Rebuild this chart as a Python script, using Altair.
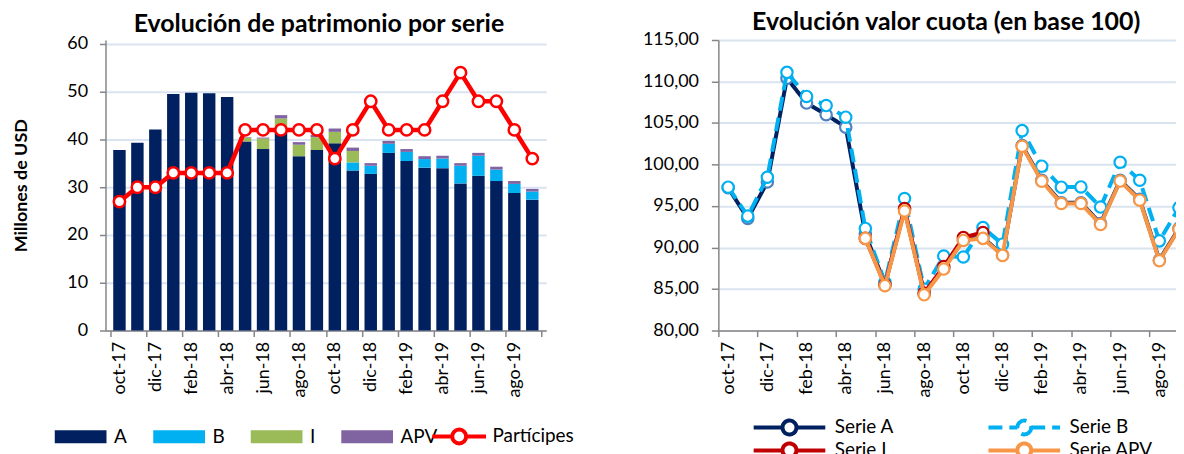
import altair as alt
import pandas as pd

# ---------------- data ----------------
months = ["oct-17", "nov-17", "dic-17", "ene-18", "feb-18", "mar-18", "abr-18",
          "may-18", "jun-18", "jul-18", "ago-18", "sep-18", "oct-18", "nov-18",
          "dic-18", "ene-19", "feb-19", "mar-19", "abr-19", "may-19", "jun-19",
          "jul-19", "ago-19", "sep-19"]

# Patrimonio (millones de USD) por serie
patrimonio_a = [37.8, 39.3, 42.1, 49.5, 49.8, 49.7, 48.9, 39.6, 38.0, 41.7, 36.5, 37.8,
                39.2, 33.5, 32.8, 37.2, 35.5, 34.1, 34.0, 30.8, 32.4, 31.3, 28.8, 27.4]
patrimonio_b = [0, 0, 0, 0, 0, 0, 0, 0, 0, 0, 0, 0,
                0, 1.7, 1.7, 1.9, 1.9, 1.8, 2.0, 3.7, 4.2, 2.4, 1.9, 1.7]
patrimonio_i = [0, 0, 0, 0, 0, 0, 0, 0.8, 2.2, 2.7, 2.4, 2.7,
                2.4, 2.4, 0, 0, 0, 0, 0, 0, 0, 0, 0, 0]
patrimonio_apv = [0, 0, 0, 0, 0, 0, 0, 0.1, 0.2, 0.7, 0.55, 0.5,
                  0.7, 0.7, 0.55, 0.6, 0.6, 0.6, 0.6, 0.55, 0.6, 0.6, 0.6, 0.55]
participes = [9, 10, 10, 11, 11, 11, 11, 14, 14, 14, 14, 14,
              12, 14, 16, 14, 14, 14, 16, 18, 16, 16, 14, 12]

# Valor cuota (base 100)
cuota_a = [97.2, 93.5, 97.9, 110.4, 107.4, 106.0, 104.5, 91.6, 85.6, 94.6, 84.5, 87.5,
           90.9, 91.2, 89.1, 102.3, 98.1, 95.4, 95.4, 92.9, 98.1, 95.8, 88.5, 92.3]
cuota_b = [97.27, 93.78, 98.47, 111.1, 108.2, 107.1, 105.7, 92.3, 85.8, 95.9, 85.0, 88.97,
           88.86, 92.4, 90.4, 104.08, 99.8, 97.27, 97.3, 94.87, 100.27, 98.1, 90.8, 94.8]
cuota_i = [None, None, None, None, None, None, None, 91.1, 85.5, 94.7, 84.5, 87.7,
           91.2, 91.8, None, None, None, None, None, None, None, None, None, None]
cuota_apv = [None, None, None, None, None, None, None, 91.1, 85.4, 94.4, 84.3, 87.4,
             90.85, 91.1, 89.05, 102.2, 97.99, 95.3, 95.3, 92.78, 98.0, 95.7, 88.4, 92.2]

bar_series = ["A", "B", "I", "APV"]
bar_colors = ["#002060", "#00B0F0", "#9BBB59", "#8064A2"]
line_series = ["Serie A", "Serie B", "Serie I", "Serie APV"]
line_colors = ["#002060", "#00B0F0", "#C00000", "#F79646"]
marker_colors = ["#4F81BD", "#00B0F0", "#C00000", "#F79646"]
line_dashes = [[1, 0], [14, 7], [1, 0], [1, 0]]

FONT = "Lato"
AXIS_GREY = "#868686"
GRID = "#DAE3F0"

# ---------------- tables ----------------
rows = []
for i, m in enumerate(months):
    for k, (s, vals) in enumerate(zip(bar_series, [patrimonio_a, patrimonio_b, patrimonio_i, patrimonio_apv])):
        rows.append({"mes": m, "pos": i + 0.5, "tipo": s, "orden": k, "valor": vals[i]})
bars_df = pd.DataFrame(rows)

part_df = pd.DataFrame({"mes": months, "pos": [i + 0.5 for i in range(len(months))],
                        "linea": "Partícipes", "valor": participes})

crow = []
for s, vals in zip(line_series, [cuota_a, cuota_b, cuota_i, cuota_apv]):
    for i, v in enumerate(vals):
        if v is not None:
            crow.append({"mes": months[i], "pos": i + 0.5, "serie": s, "valor": v})
cuota_df = pd.DataFrame(crow)

label_js = "[" + ",".join("'" + m + "'" for m in months) + "]"
month_expr = "datum.value < " + str(len(months)) + " ? " + label_js + "[datum.value] : ''"

# plot areas are top-aligned by the concat layout: both are 292 px tall,
# left scales extended so that 60 / 20 sit 4 px below the top as in the reference
H = 292
left_max = 60 * H / 288
right_axis_max = 20 * H / 288

# ---------------- left chart ----------------
x_left = alt.X("pos:Q", scale=alt.Scale(domain=[0, 24], nice=False, zero=False),
               axis=alt.Axis(values=list(range(0, 25, 2)), labelExpr=month_expr,
                             labelOffset=9.2, labelAngle=270, grid=False, tickSize=6,
                             labelPadding=5, title=None, labelOverlap=False, labelFlush=False))

rect_path = "M-4,-1H4V1H-4Z"
ring_part = "M-3.85,0H-1M1,0H3.85M1,0A1,1,0,1,1,-1,0A1,1,0,1,1,1,0Z"

bars = alt.Chart(bars_df).mark_bar(size=12.5).encode(
    x=x_left,
    y=alt.Y("valor:Q", stack="zero", scale=alt.Scale(domain=[0, left_max], nice=False),
            axis=alt.Axis(values=[0, 10, 20, 30, 40, 50, 60], title="Millones de USD",
                          titleFont=FONT, titleFontSize=18, titleFontWeight="bold",
                          titleColor="black", titlePadding=37, grid=True, gridColor=GRID,
                          gridWidth=2, tickSize=6, labelPadding=12)),
    color=alt.Color("tipo:N", scale=alt.Scale(domain=bar_series, range=bar_colors),
                    legend=alt.Legend(orient="none", legendX=-54, legendY=389,
                                      direction="horizontal", title=None,
                                      symbolType=rect_path, symbolSize=169,
                                      symbolStrokeWidth=0, symbolOffset=19.5,
                                      labelOffset=24, columnPadding=23)),
    order=alt.Order("orden:Q"),
)

part_line = alt.Chart(part_df).mark_line(strokeWidth=4.5).encode(
    x=x_left,
    y=alt.Y("valor:Q", scale=alt.Scale(domain=[0, right_axis_max], nice=False),
            axis=alt.Axis(orient="right", values=[0, 5, 10, 15, 20], grid=False,
                          tickSize=6, labelPadding=14, title=None)),
    stroke=alt.Stroke("linea:N", scale=alt.Scale(domain=["Partícipes"], range=["#FF0000"]),
                      legend=alt.Legend(orient="none", legendX=326, legendY=389, title=None,
                                        symbolType=ring_part, symbolSize=196,
                                        symbolStrokeWidth=4, symbolFillColor="white",
                                        symbolOffset=20, labelOffset=24)),
)
part_pts = alt.Chart(part_df).mark_point(filled=True, fill="white", stroke="#FF0000",
                                         strokeWidth=2.5, size=130, opacity=1).encode(
    x=x_left,
    y=alt.Y("valor:Q", scale=alt.Scale(domain=[0, right_axis_max], nice=False), axis=None),
)

left = alt.layer(bars, alt.layer(part_line, part_pts)).resolve_scale(y="independent").properties(
    width=443, height=H,
    title=alt.TitleParams("Evolución de patrimonio por serie", font=FONT, fontSize=25,
                          fontWeight="bold", color="black", offset=-2, dx=-7),
)

# ---------------- right chart ----------------
x_right = alt.X("pos:Q", scale=alt.Scale(domain=[0, 23.35], nice=False, zero=False),
                axis=alt.Axis(values=list(range(0, 23, 2)), labelExpr=month_expr,
                              labelOffset=9.85, labelAngle=270, grid=False, tickSize=6,
                              labelPadding=5, title=None, labelOverlap=False, labelFlush=False))
y_right = alt.Y("valor:Q", scale=alt.Scale(domain=[80, 115], nice=False, zero=False),
                axis=alt.Axis(values=[80, 85, 90, 95, 100, 105, 110, 115],
                              labelExpr="replace(format(datum.value, '.2f'), '.', ',')",
                              grid=True, gridColor=GRID, gridWidth=2, tickSize=7,
                              labelPadding=13, title=None, labelFlush=False))

ring_serie = "M-7.2,0H-1.4M1.4,0H7.2M1.4,0A1.4,1.4,0,1,1,-1.4,0A1.4,1.4,0,1,1,1.4,0Z"
leg_r = alt.Legend(orient="none", legendX=31, legendY=379, title=None, columns=2,
                   direction="horizontal", clipHeight=21,
                   symbolType=ring_serie, symbolSize=100, symbolStrokeWidth=4,
                   symbolFillColor="white", symbolOffset=31, labelOffset=36,
                   columnPadding=90, rowPadding=2)

layers = []
for s in line_series:
    sub = alt.Chart(cuota_df).transform_filter(alt.datum.serie == s)
    layers.append(sub.mark_line(strokeWidth=4, clip=True).encode(
        x=x_right, y=y_right,
        color=alt.Color("serie:N", scale=alt.Scale(domain=line_series, range=line_colors), legend=leg_r),
        strokeDash=alt.StrokeDash("serie:N", scale=alt.Scale(domain=line_series, range=line_dashes), legend=leg_r),
    ))
    layers.append(sub.mark_point(filled=True, fill="white", size=130, strokeWidth=2.2,
                                 opacity=1, clip=True).encode(
        x=x_right, y=y_right,
        stroke=alt.Stroke("serie:N", scale=alt.Scale(domain=line_series, range=marker_colors), legend=None),
    ))

right = alt.layer(*layers).properties(
    width=460, height=H,
    title=alt.TitleParams("Evolución valor cuota (en base 100)", font=FONT, fontSize=25,
                          fontWeight="bold", color="black", offset=-2, dy=2, dx=-1),
)

chart = alt.hconcat(left, right, spacing=68).resolve_scale(
    color="independent", stroke="independent", strokeDash="independent"
).resolve_legend(
    color="independent", stroke="independent", strokeDash="independent"
).properties(
    padding={"left": 4, "top": 1, "right": 0, "bottom": 0}
).configure_view(stroke=None).configure_axis(
    labelFont=FONT, labelFontSize=18, labelColor="black", domainColor=AXIS_GREY,
    tickColor=AXIS_GREY, domainWidth=1.5, tickWidth=1.5, labelFlush=False, labelOverlap=False,
).configure_legend(
    labelFont=FONT, labelFontSize=19, labelColor="black",
)

chart.save("out.html", embed_options={"renderer": "svg", "actions": False})
